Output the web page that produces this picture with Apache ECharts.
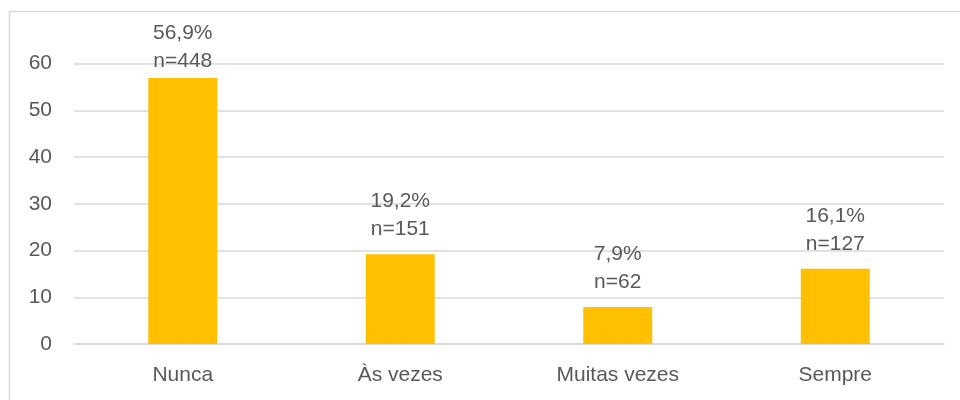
<!DOCTYPE html>
<html>
<head>
<meta charset="utf-8">
<title>chart</title>
<script src="https://cdn.jsdelivr.net/npm/echarts@6/dist/echarts.min.js"></script>
<style>
  html, body { margin: 0; padding: 0; background: #fff; }
  #main-chart { width: 960px; height: 400px; }
</style>
</head>
<body>
<div id="main-chart"></div>
<script>
'use strict';

const categories = ['Nunca', 'Às vezes', 'Muitas vezes', 'Sempre'];
const percents = [56.9, 19.2, 7.9, 16.1];
const counts = [448, 151, 62, 127];
const yTicks = [0, 10, 20, 30, 40, 50, 60];

const textColor = '#595959';
const fontFamily = '"Liberation Sans", Arial, sans-serif';

let myChart = echarts.init(document.getElementById('main-chart'));

// the first label sits closer to its bar (it is squeezed under the top edge)
const barData = percents.map(function(v, i) {
  return {
    value: v,
    label: { distance: i === 0 ? 3 : 11 }
  };
});

let option = {
  animation: false,
  graphic: [{
    type: 'rect',
    shape: { x: 9.5, y: 11.5, width: 980, height: 420 },
    style: { fill: 'none', stroke: '#d9d9d9', lineWidth: 1.5 },
    silent: true
  }],
  grid: {
    left: 74,
    right: 16,
    top: 63.5,
    bottom: 56
  },
  xAxis: {
    type: 'category',
    data: categories,
    axisLine: { lineStyle: { color: '#d9d9d9', width: 1.5 } },
    axisTick: { show: false },
    axisLabel: {
      color: textColor,
      fontSize: 21,
      fontFamily: fontFamily,
      margin: 21
    }
  },
  yAxis: {
    type: 'value',
    min: yTicks[0],
    max: yTicks[yTicks.length - 1],
    interval: 10,
    axisLine: { show: false },
    axisTick: { show: false },
    axisLabel: {
      color: textColor,
      fontSize: 21,
      fontFamily: fontFamily,
      margin: 22
    },
    splitLine: { lineStyle: { color: '#d9d9d9', width: 1.5 } }
  },
  series: [{
    type: 'bar',
    data: barData,
    barWidth: '31.7%',
    itemStyle: { color: '#ffc000' },
    label: {
      show: true,
      position: 'top',
      color: textColor,
      fontSize: 21,
      fontFamily: fontFamily,
      lineHeight: 28,
      formatter: function(p) {
        return String(p.value).replace('.', ',') + '%\nn=' + counts[p.dataIndex];
      }
    }
  }]
};

myChart.setOption(option);
</script>
</body>
</html>
